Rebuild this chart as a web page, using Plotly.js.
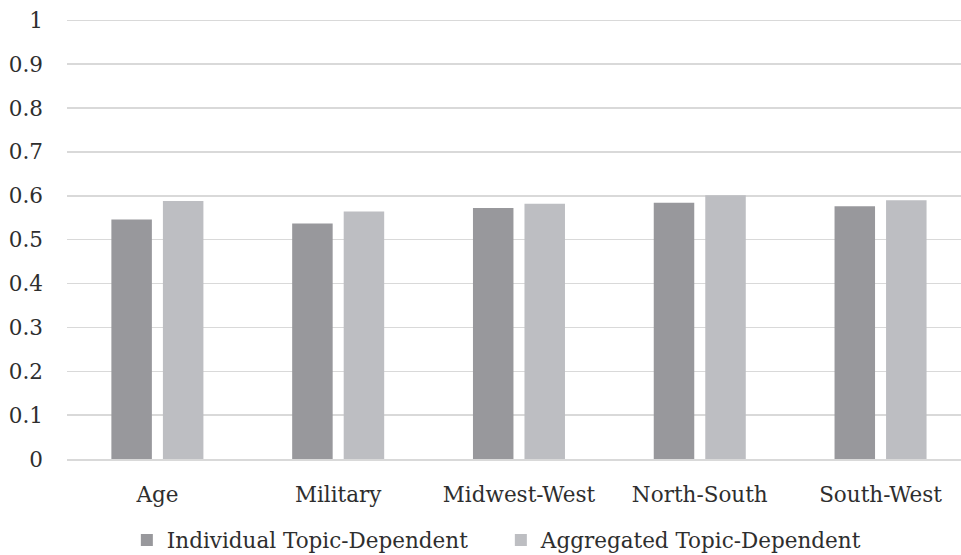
<!DOCTYPE html>
<html>
<head>
<meta charset="utf-8">
<script src="https://cdn.plot.ly/plotly-3.0.1.min.js"></script>
<style>
  html, body { margin: 0; padding: 0; background: #ffffff; }
  #chart { width: 961px; height: 555px; }
</style>
</head>
<body>
<div id="chart"></div>
<script>
// Topic pairs compared along the x axis
const categories = ['Age', 'Military', 'Midwest-West', 'North-South', 'South-West'];

// Scores for the two topic-dependent variants
const individualScores = [0.546, 0.537, 0.572, 0.584, 0.576];
const aggregatedScores = [0.588, 0.564, 0.582, 0.601, 0.590];

const seriesNames = ['Individual Topic-Dependent', 'Aggregated Topic-Dependent'];
const yTickValues = [0, 0.1, 0.2, 0.3, 0.4, 0.5, 0.6, 0.7, 0.8, 0.9, 1];
const yTickLabels = ['0', '0.1', '0.2', '0.3', '0.4', '0.5', '0.6', '0.7', '0.8', '0.9', '1'];

const fontFamily = '"DejaVu Serif", "Liberation Serif", serif';
const textColor = '#2e2e2e';
const gridColor = '#d9d9d9';

const traces = [
  {
    type: 'bar',
    name: seriesNames[0],
    x: categories,
    y: individualScores,
    marker: { color: '#98989c', line: { width: 0 } },
    hoverinfo: 'x+y'
  },
  {
    type: 'bar',
    name: seriesNames[1],
    x: categories,
    y: aggregatedScores,
    marker: { color: '#bdbec2', line: { width: 0 } },
    hoverinfo: 'x+y'
  }
];

const layout = {
  width: 961,
  height: 555,
  margin: { l: 67, r: 0, t: 19, b: 96, pad: 0 },
  paper_bgcolor: '#ffffff',
  plot_bgcolor: '#ffffff',
  font: { family: fontFamily, size: 21.5, color: textColor },
  barmode: 'group',
  bargap: 0.43,
  bargroupgap: 0.214,
  showlegend: true,
  legend: {
    orientation: 'h',
    xref: 'container',
    yref: 'container',
    x: 0.132,
    xanchor: 'left',
    y: 0.027,
    yanchor: 'middle',
    entrywidth: 329,
    font: { family: fontFamily, size: 21.5, color: textColor },
    bgcolor: 'rgba(0,0,0,0)'
  },
  xaxis: {
    type: 'category',
    range: [-0.5, 4.445],
    showgrid: false,
    showline: true,
    linecolor: gridColor,
    linewidth: 1.5,
    ticks: '',
    ticklabelstandoff: 16,
    tickfont: { family: fontFamily, size: 21.5, color: textColor },
    fixedrange: true
  },
  yaxis: {
    // slight headroom so the gridline at 1 is drawn
    range: [0, 1.003],
    tickvals: yTickValues,
    ticktext: yTickLabels,
    showgrid: true,
    gridcolor: gridColor,
    gridwidth: 1.5,
    zeroline: false,
    showline: false,
    ticks: '',
    ticklabelstandoff: 23,
    tickfont: { family: fontFamily, size: 21.5, color: textColor },
    fixedrange: true
  }
};

Plotly.newPlot('chart', traces, layout, { displayModeBar: false, staticPlot: true });
</script>
</body>
</html>
